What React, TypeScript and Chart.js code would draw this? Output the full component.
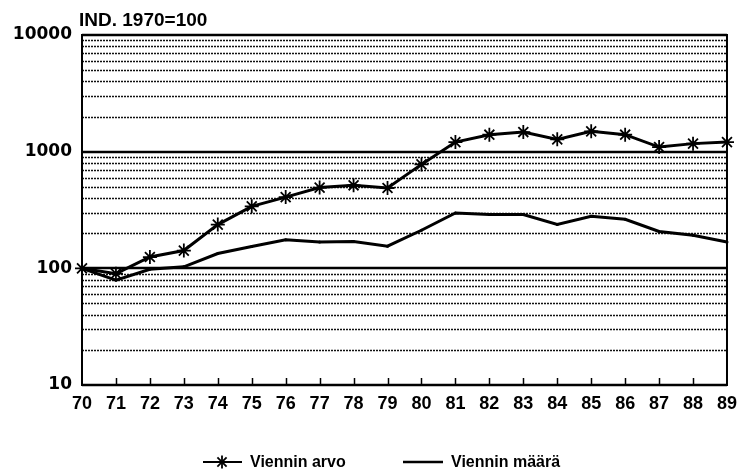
import React, { useEffect, useRef } from "react";
import { Chart, registerables } from "chart.js";

Chart.register(...registerables);

const years = ["70","71","72","73","74","75","76","77","78","79","80","81","82","83","84","85","86","87","88","89"];
const vienninArvo = [100, 90, 125, 142, 237, 340, 408, 492, 515, 488, 778, 1208, 1398, 1473, 1275, 1493, 1398, 1095, 1172, 1208];
const vienninMaara = [100, 79, 98, 103, 134, 154, 176, 168, 170, 155, 212, 298, 289, 289, 238, 279, 263, 207, 192, 168];
const yMajorTicks = [10, 100, 1000, 10000];
const titleText = "IND. 1970=100";

const FONT = "'Liberation Sans', Arial, sans-serif";

const decor = {
  id: "decor",
  beforeDatasetsDraw(chart: any) {
    const { ctx, chartArea: a, scales } = chart;
    const y = scales.y;
    const x = scales.x;
    ctx.save();
    // minor dashed gridlines
    ctx.strokeStyle = "#111";
    ctx.lineWidth = 1.3;
    ctx.setLineDash([2, 1]);
    for (let d = 10; d < 10000; d *= 10) {
      for (let m = 2; m <= 9; m++) {
        const py = Math.round(y.getPixelForValue(d * m)) + 0.5;
        ctx.beginPath();
        ctx.moveTo(a.left, py);
        ctx.lineTo(a.right, py);
        ctx.stroke();
      }
    }
    ctx.setLineDash([]);
    // major lines
    ctx.strokeStyle = "#000";
    ctx.lineWidth = 2.5;
    for (const v of yMajorTicks) {
      const py = Math.round(y.getPixelForValue(v));
      ctx.beginPath();
      ctx.moveTo(a.left, py);
      ctx.lineTo(a.right, py);
      ctx.stroke();
    }
    // frame
    ctx.lineWidth = 2;
    ctx.strokeRect(a.left, a.top, a.right - a.left, a.bottom - a.top);
    // inward ticks
    ctx.lineWidth = 1.5;
    for (let i = 1; i < years.length - 1; i++) {
      const px = Math.round(x.getPixelForValue(i)) + 0.5;
      ctx.beginPath();
      ctx.moveTo(px, a.bottom);
      ctx.lineTo(px, a.bottom - 7);
      ctx.stroke();
    }
    ctx.restore();
  },
  afterDraw(chart: any) {
    const { ctx, chartArea: a } = chart;
    ctx.save();
    ctx.fillStyle = "#000";
    ctx.textBaseline = "alphabetic";
    ctx.textAlign = "left";
    ctx.font = `bold 19px ${FONT}`;
    ctx.fillText(titleText, a.left - 3, 26);

    // legend
    const ds = chart.data.datasets;
    const ly = 462;
    ctx.font = `bold 16px ${FONT}`;
    ctx.textBaseline = "middle";
    ctx.strokeStyle = "#000";
    // item 1
    ctx.lineWidth = 2;
    ctx.beginPath();
    ctx.moveTo(203, ly);
    ctx.lineTo(242, ly);
    ctx.stroke();
    // asterisk
    const cx = 222, r = 6.5;
    ctx.lineWidth = 1.8;
    for (let k = 0; k < 4; k++) {
      const ang = (k * Math.PI) / 4;
      ctx.beginPath();
      ctx.moveTo(cx - r * Math.cos(ang), ly - r * Math.sin(ang));
      ctx.lineTo(cx + r * Math.cos(ang), ly + r * Math.sin(ang));
      ctx.stroke();
    }
    ctx.fillText(ds[0].label, 250, ly + 1);
    // item 2
    ctx.lineWidth = 2.5;
    ctx.beginPath();
    ctx.moveTo(403, ly);
    ctx.lineTo(443, ly);
    ctx.stroke();
    ctx.fillText(ds[1].label, 451, ly + 1);
    ctx.restore();
  },
};

export default function App() {
  const ref = useRef<HTMLCanvasElement>(null);
  useEffect(() => {
    if (!ref.current) return;
    const chart = new Chart(ref.current, {
      type: "line",
      data: {
        labels: years,
        datasets: [
          {
            label: "Viennin arvo",
            data: vienninArvo,
            borderColor: "#000",
            backgroundColor: "#000",
            borderWidth: 3,
            pointStyle: "star",
            pointRadius: 7,
            pointBorderWidth: 1.8,
            pointBorderColor: "#000",
            tension: 0,
          },
          {
            label: "Viennin määrä",
            data: vienninMaara,
            borderColor: "#000",
            backgroundColor: "#000",
            borderWidth: 3,
            pointRadius: 1.5,
            pointBorderWidth: 0,
            tension: 0,
          },
        ],
      },
      plugins: [decor],
      options: {
        responsive: false,
        animation: false,
        layout: { padding: { top: 35, right: 16, left: 0, bottom: 0 } },
        plugins: { legend: { display: false }, title: { display: false }, tooltip: { enabled: false } },
        scales: {
          x: {
            type: "category",
            offset: false,
            grid: { display: false, drawTicks: false },
            border: { display: false },
            ticks: {
              color: "#000",
              font: { family: FONT, weight: "bold", size: 18 },
              padding: 8,
              autoSkip: false,
              maxRotation: 0,
            },
            afterFit: (s: any) => { s.height = 90; },
          },
          y: {
            type: "logarithmic",
            min: 10,
            max: 10000,
            grid: { display: false, drawTicks: false },
            border: { display: false },
            afterBuildTicks: (s: any) => { s.ticks = yMajorTicks.map((v) => ({ value: v })); },
            ticks: {
              color: "#000",
              font: { family: "'DejaVu Sans', sans-serif", weight: "bold", size: 17 },
              padding: 10,
              autoSkip: false,
              callback: (v: any) => String(v),
            },
            afterFit: (s: any) => { s.width = 82; },
          },
        },
      },
    });
    return () => chart.destroy();
  }, []);
  return (
    <canvas
      ref={ref}
      width={745}
      height={475}
      style={{ position: "absolute", left: 0, top: 0, width: 745, height: 475 }}
    />
  );
}
